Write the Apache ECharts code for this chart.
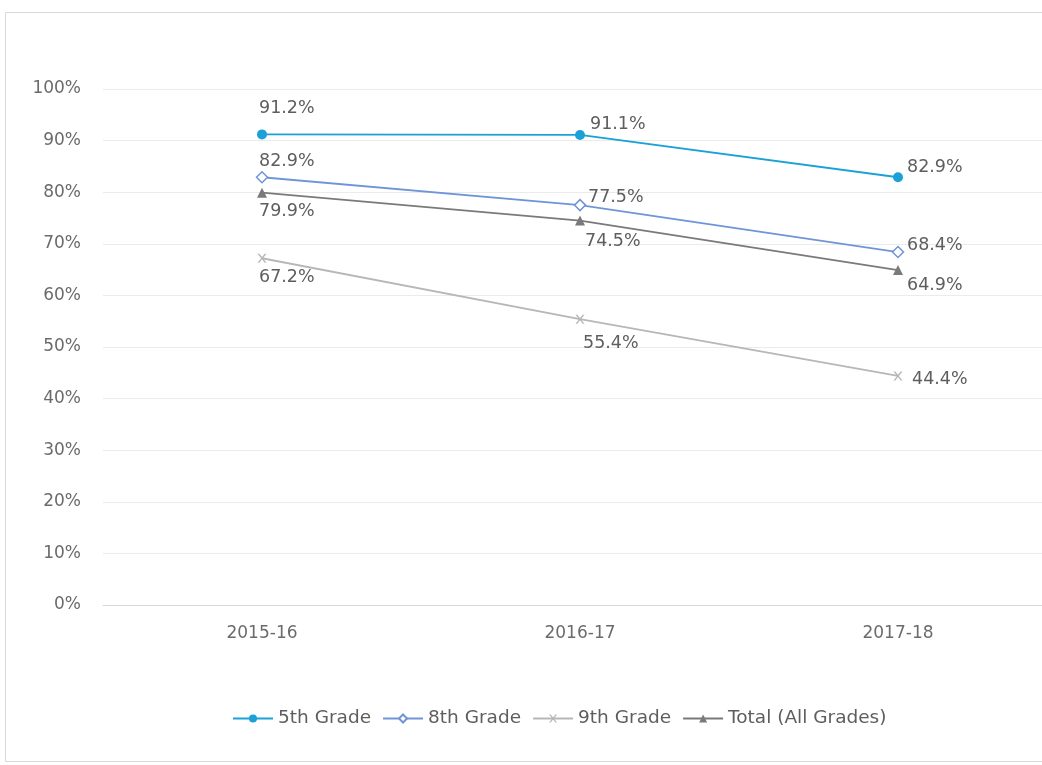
<!DOCTYPE html>
<html>
<head>
<meta charset="utf-8">
<script src="https://cdn.jsdelivr.net/npm/echarts@6/dist/echarts.min.js"></script>
<style>
html,body{margin:0;padding:0;background:#fff;overflow:hidden;width:1042px;height:765px;}
#chart{width:1080px;height:765px;}
</style>
</head>
<body>
<div id="chart"></div>
<script>
var categories = ['2015-16', '2016-17', '2017-18'];
var seriesNames = ['5th Grade', '8th Grade', '9th Grade', 'Total (All Grades)'];
var grade5 = [91.2, 91.1, 82.9];
var grade8 = [82.9, 77.5, 68.4];
var grade9 = [67.2, 55.4, 44.4];
var totalAll = [79.9, 74.5, 64.9];
var yTicks = [0, 10, 20, 30, 40, 50, 60, 70, 80, 90, 100];

// label placement (style only)
var labelOffsets = [
  [[-3, -26], [10, -10], [9, -10]],
  [[-3, -16], [8, -8], [9, -7]],
  [[-3, 19], [3, 24], [14, 4]],
  [[-3, 19], [5, 21], [9, 15]]
];
var colors = ['#1ba1d6', '#6f95d8', '#b7b7b7', '#7a7a7a'];
var symbols = ['circle', 'diamond', 'path://M0,0 L2,0 L5,3 L8,0 L10,0 L6,4 L10,8 L8,8 L5,5 L2,8 L0,8 L4,4 Z', 'triangle'];
var symbolSizes = [10, 11, 9, 10];
var fills = ['#1ba1d6', '#ffffff', '#b7b7b7', '#7a7a7a'];
var FONT = '"DejaVu Sans", "Noto Sans", sans-serif';

var allData = [grade5, grade8, grade9, totalAll];

function buildSeries(i) {
  return {
    name: seriesNames[i],
    type: 'line',
    data: allData[i].map(function (v, j) {
      return {
        value: v,
        label: {
          show: true,
          position: 'inside',
          align: 'left',
          verticalAlign: 'middle',
          offset: labelOffsets[i][j]
        }
      };
    }),
    symbol: symbols[i],
    symbolSize: symbolSizes[i],
    showAllSymbol: true,
    lineStyle: { color: colors[i], width: 1.8 },
    itemStyle: { color: fills[i], borderColor: colors[i], borderWidth: i === 1 ? 1.5 : 0 },
    label: {
      show: true,
      color: '#5e5e5e',
      fontSize: 17.5,
      fontFamily: FONT,
      formatter: function (p) { return p.value.toFixed(1) + '%'; }
    },
    emphasis: { disabled: true },
    z: 10 - i
  };
}

var chart = echarts.init(document.getElementById('chart'), null, { renderer: 'canvas' });
chart.setOption({
  backgroundColor: '#ffffff',
  animation: false,
  color: colors,
  graphic: [{
    type: 'rect',
    shape: { x: 5.5, y: 12.5, width: 1060, height: 749 },
    style: { fill: 'none', stroke: '#d9d9d9', lineWidth: 1 },
    silent: true
  }],
  grid: { left: 103, top: 89, width: 954, height: 516, containLabel: false },
  xAxis: {
    type: 'category',
    data: categories,
    boundaryGap: true,
    axisLine: { show: true, lineStyle: { color: '#d9d9d9', width: 1 } },
    axisTick: { show: false },
    axisLabel: { color: '#6b6b6b', fontSize: 17, fontFamily: FONT, margin: 20 }
  },
  yAxis: {
    type: 'value',
    min: yTicks[0],
    max: yTicks[yTicks.length - 1],
    interval: 10,
    axisLine: { show: false },
    axisTick: { show: false },
    splitLine: { lineStyle: { color: '#ebebeb', width: 1 } },
    axisLabel: { color: '#6b6b6b', fontSize: 17, fontFamily: FONT, margin: 22, formatter: '{value}%' }
  },
  legend: {
    top: 704,
    left: 227,
    itemWidth: 40,
    itemHeight: 10,
    itemGap: 11,
    textStyle: { color: '#5e5e5e', fontSize: 18.5, fontFamily: FONT },
    data: seriesNames
  },
  series: [0, 1, 2, 3].map(buildSeries)
});
</script>
</body>
</html>
